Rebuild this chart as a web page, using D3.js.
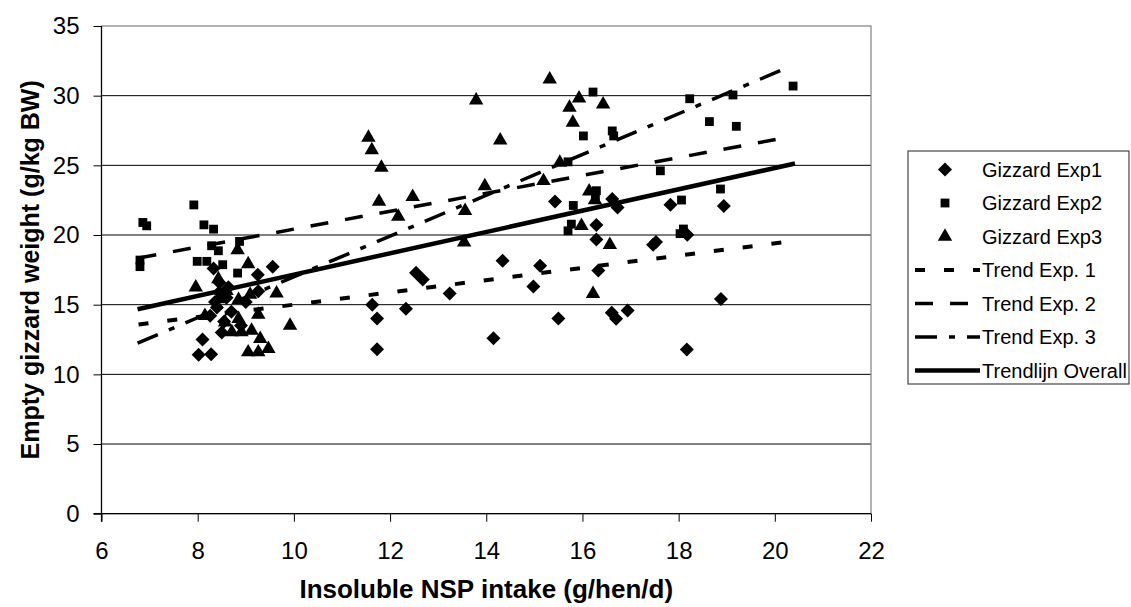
<!DOCTYPE html>
<html><head><meta charset="utf-8">
<script src="https://cdn.jsdelivr.net/npm/d3@7/dist/d3.min.js"></script>
<style>body{margin:0;background:#fff;} text{font-family:"Liberation Sans",Arial,sans-serif;}</style>
</head><body><svg id="c" width="1131" height="607"></svg>
<script>
// ---- data ----
const exp1X = [8.02,8.28,8.10,8.26,8.36,8.33,8.45,8.64,8.50,8.60,9.25,9.56,9.26,8.45,8.70,8.90,8.55,8.40,9.00,
  11.63,11.73,11.73,12.33,12.54,12.68,13.24,14.15,14.34,14.98,15.12,15.43,15.50,
  16.29,16.29,16.33,16.62,16.73,16.61,16.70,16.94,17.53,17.47,17.83,18.18,18.17,18.88,18.94];
const exp1Y = [11.4,11.45,12.5,14.2,15.2,17.6,16.6,16.25,13.0,15.5,17.15,17.73,15.96,15.9,14.5,13.5,13.8,14.8,15.2,
  15.0,14.0,11.8,14.7,17.3,16.8,15.8,12.6,18.16,16.3,17.8,22.4,14.0,
  20.72,19.67,17.45,22.58,21.98,14.42,13.99,14.58,19.5,19.3,22.17,20.02,11.79,15.4,22.08];
const exp2X = [6.80,6.80,6.86,6.94,7.92,7.99,8.19,8.13,8.33,8.29,8.43,8.52,8.83,8.87,
  15.70,15.81,15.77,15.70,16.02,16.22,16.62,16.65,16.29,16.27,17.62,18.06,18.10,18.03,18.23,18.64,18.87,19.13,19.20,20.38];
const exp2Y = [18.2,17.73,20.9,20.66,22.16,18.11,18.11,20.73,20.42,19.23,18.87,17.87,17.27,19.54,
  25.25,22.12,20.78,20.3,27.11,30.26,27.47,27.11,23.18,22.8,24.61,22.51,20.43,20.1,29.78,28.14,23.3,30.05,27.8,30.69];
const exp3X = [7.96,8.43,8.83,9.05,9.64,9.92,8.85,9.09,9.26,8.85,8.57,8.71,8.91,9.12,9.30,9.47,9.05,9.26,8.15,8.60,8.45,
  11.55,11.62,11.82,11.77,12.17,12.47,13.56,13.54,13.79,13.97,14.29,15.19,15.32,15.53,15.73,15.80,15.93,15.98,16.14,16.43,16.57,16.22,16.26];
const exp3Y = [16.25,16.84,18.92,17.92,15.82,13.5,15.34,15.72,14.29,13.98,13.74,13.03,13.03,13.15,12.55,11.83,11.59,11.59,14.2,16.0,15.4,
  27.0,26.1,24.84,22.4,21.33,22.74,21.74,19.47,29.66,23.52,26.8,23.88,31.17,25.2,29.14,28.07,29.81,20.66,23.13,29.38,19.29,15.78,22.5];
// trend lines: [x0, x1], [y0, y1]
const trend1X = [6.77, 20.15], trend1Y = [13.58, 19.47];
const trend2X = [6.77, 20.31], trend2Y = [18.35, 27.04];
const trend3X = [6.75, 20.17], trend3Y = [12.24, 31.88];
const overallX = [6.75, 20.42], overallY = [14.67, 25.13];
const xTicks = [6,8,10,12,14,16,18,20,22];
const yTicks = [0,5,10,15,20,25,30,35];
const legendLabels = ["Gizzard Exp1","Gizzard Exp2","Gizzard Exp3","Trend Exp. 1","Trend Exp. 2","Trend Exp. 3","Trendlijn Overall"];

// ---- drawing ----
const svg = d3.select("#c");
const L = 101.5, R = 871, T = 26, B = 513.7;
const x = d3.scaleLinear().domain([6,22]).range([L,R]);
const y = d3.scaleLinear().domain([0,35]).range([B,T]);

// gridlines
svg.append("g").selectAll("line").data(yTicks.filter(d=>d>0 && d<35)).join("line")
  .attr("x1",L).attr("x2",R).attr("y1",d=>y(d)).attr("y2",d=>y(d))
  .attr("stroke","#000").attr("stroke-width",1);
// plot border
svg.append("rect").attr("x",L).attr("y",T).attr("width",R-L).attr("height",B-T)
  .attr("fill","none").attr("stroke","#808080").attr("stroke-width",1.2);

// axes
const yAxis = d3.axisLeft(y).tickValues(yTicks).tickSize(8).tickPadding(14).tickFormat(d3.format("d"));
const gy = svg.append("g").attr("transform",`translate(${L},0)`).call(yAxis);
const xAxis = d3.axisBottom(x).tickValues(xTicks).tickSize(8).tickPadding(20).tickFormat(d3.format("d"));
const gx = svg.append("g").attr("transform",`translate(0,${B})`).call(xAxis);
[gx,gy].forEach(g=>{
  g.select(".domain").attr("stroke","#000").attr("stroke-width",1.2);
  g.selectAll(".tick line").attr("stroke","#000");
  g.selectAll("text").attr("font-size",24).attr("fill","#000").attr("font-family","Liberation Sans, Arial, sans-serif");
});
gy.select(".domain").attr("d",`M0,${B+8}V${T}`);
gx.select(".domain").attr("d",`M${L-8},0H${R}`);

// axis titles
svg.append("text").attr("x",(L+R)/2).attr("y",598).attr("text-anchor","middle")
  .attr("font-size",26).attr("font-weight","bold").text("Insoluble NSP intake (g/hen/d)");
svg.append("text").attr("transform",`translate(39,${(T+B)/2}) rotate(-90)`).attr("text-anchor","middle")
  .attr("font-size",25).attr("font-weight","bold").text("Empty gizzard weight (g/kg BW)");

// trend lines
const trends = [
  {xs:trend1X, ys:trend1Y, dash:"10,19", w:4},
  {xs:trend2X, ys:trend2Y, dash:"18,17", w:3.5},
  {xs:trend3X, ys:trend3Y, dash:"22,12,6,12", w:3.5},
  {xs:overallX, ys:overallY, dash:null, w:4.5}
];
const line = d3.line().x(d=>x(d[0])).y(d=>y(d[1]));

// markers
const sym = {
  diamond: d3.symbol().type(d3.symbolSquare).size(98),
  square: d3.symbol().type(d3.symbolSquare).size(78),
  triangle: d3.symbol().type(d3.symbolTriangle).size(90)
};
function drawPts(xs, ys, kind){
  const g = svg.append("g");
  g.selectAll("path").data(xs.map((v,i)=>[v,ys[i]])).join("path")
    .attr("d", sym[kind]())
    .attr("transform", d=> kind==="diamond" ? `translate(${x(d[0])},${y(d[1])}) rotate(45)` : `translate(${x(d[0])},${y(d[1])})`)
    .attr("fill","#000");
}
drawPts(exp1X, exp1Y, "diamond");
drawPts(exp2X, exp2Y, "square");
drawPts(exp3X, exp3Y, "triangle");

trends.forEach(t=>{
  svg.append("path").datum([[t.xs[0],t.ys[0]],[t.xs[1],t.ys[1]]]).attr("d",line)
    .attr("fill","none").attr("stroke","#000").attr("stroke-width",t.w)
    .attr("stroke-dasharray",t.dash);
});

// legend
const lg = svg.append("g");
const lgTop = 151, lgStep = 33.5, lgX = 908;
lg.append("rect").attr("x",lgX).attr("y",lgTop).attr("width",1129-lgX).attr("height",233)
  .attr("fill","#fff").attr("stroke","#444").attr("stroke-width",1.2);
legendLabels.forEach((lab,i)=>{
  const cy = lgTop + 18.5 + i*lgStep;
  if(i<3){
    const kind = ["diamond","square","triangle"][i];
    lg.append("path").attr("d",sym[kind]())
      .attr("transform", kind==="diamond"?`translate(945,${cy}) rotate(45)`:`translate(945,${cy})`).attr("fill","#000");
  } else {
    const t = trends[i-3];
    lg.append("line").attr("x1",915).attr("x2",980).attr("y1",cy).attr("y2",cy)
      .attr("stroke","#000").attr("stroke-width",t.w).attr("stroke-dasharray",t.dash);
  }
  lg.append("text").attr("x",982).attr("y",cy).attr("dy","0.36em")
    .attr("font-size",20).text(lab);
});
</script></body></html>
